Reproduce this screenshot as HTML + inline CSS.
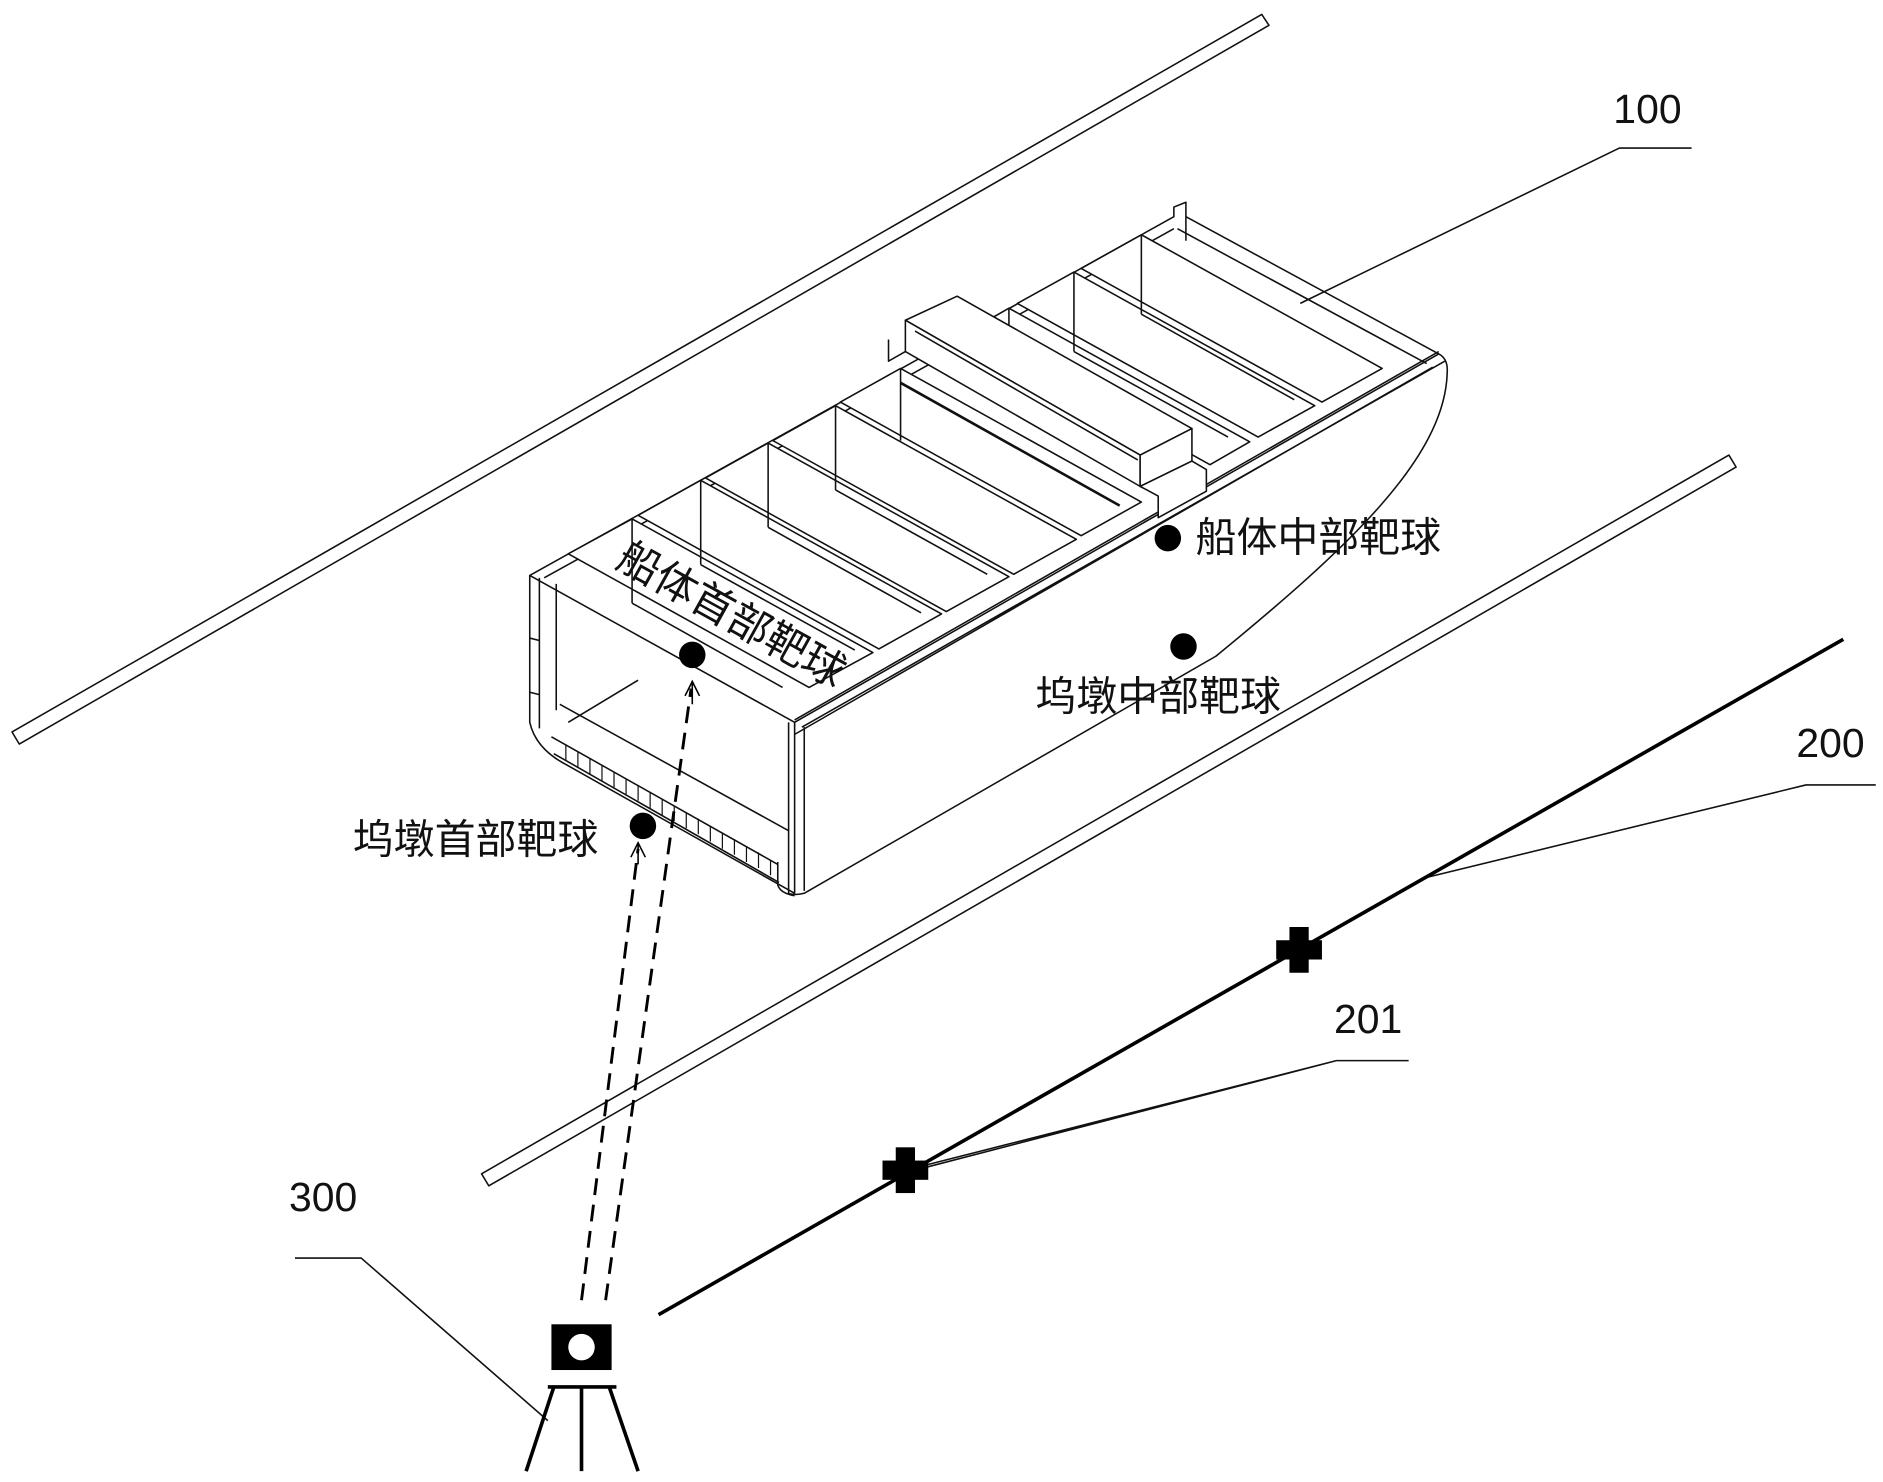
<!DOCTYPE html>
<html><head><meta charset="utf-8"><style>
html,body{margin:0;padding:0;background:#fff;}
svg{display:block;}
text{font-family:"Liberation Sans","Noto Sans CJK SC",sans-serif;fill:#111;}
</style></head><body>
<svg width="1883" height="1482" viewBox="0 0 1564 1231" preserveAspectRatio="none" xmlns="http://www.w3.org/2000/svg">
<g fill="none" stroke="#111" stroke-width="1.3" stroke-linejoin="round">
<!-- rails -->
<polygon points="10,608 1048,12 1054,21 16,618" fill="#fff"/>
<polygon points="400,975 1436,378 1442,388 406,985" fill="#fff"/>

<!-- ship hull near side -->
<path d="M660,600 L1195,294 Q1203,298 1202,310 C1200,380 1120,455 1010,545 L668,742 Q660,744 655,742 Z" fill="#fff"/>
<!-- front face -->
<path d="M440,478 L660,600 L660,742 L470,635 Q445,622 440,600 Z" fill="#fff"/>
<line x1="668" y1="604" x2="668" y2="740"/>
<line x1="655" y1="600" x2="655" y2="740"/>
<line x1="462" y1="485" x2="462" y2="590"/>
<line x1="465" y1="585" x2="655" y2="690"/>
<line x1="472" y1="600" x2="530" y2="565"/>
<line x1="448" y1="480" x2="448" y2="605"/>
<line x1="440" y1="530" x2="448" y2="532"/>
<line x1="440" y1="575" x2="448" y2="577"/>
<!-- hatched bottom strip -->
<path d="M458,612 L646,718 M460,626 L647,733"/>
<g stroke-width="1">
<path d="M470,619v13 M480,624v13 M490,630v13 M500,636v13 M510,641v13 M520,647v13 M530,652v13 M540,658v13 M550,664v13 M560,669v13 M570,675v13 M580,680v13 M590,686v13 M600,692v13 M610,697v13 M620,703v13 M630,708v13 M640,714v13"/>
</g>
<path d="M646,716 L646,735 Q648,742 660,744" />
<!-- far gunwale -->
<path d="M440,478 L975,180 L975,172 L985,168 L985,200"/>
<path d="M452,480 L975,190"/>
<!-- stern top edge -->
<path d="M985,180 L1195,294"/>
<path d="M978,190 L1185,302"/>
<!-- near gunwale rim -->
<path d="M660,598 L1195,292 M666,604 L1200,300 M660,610 L1190,305"/>

<!-- cells -->
<g fill="#fff">
<polygon points="472,460 525,431 725,542 672,571"/>
<polygon points="530,428 582,399 782,510 730,539"/>
<polygon points="586,397 638,368 838,479 786,508"/>
<polygon points="642,366 694,337 894,448 842,477"/>
<polygon points="698,334 748,306 948,417 898,445"/>
<polygon points="805,275 838,256 1038,367 1005,386"/>
<polygon points="845,252 892,226 1092,337 1045,363"/>
<polygon points="898,223 948,195 1148,306 1098,334"/>
</g>
<!-- inner walls -->
<path d="M525,431 v70 M582,399 v70 M638,368 v70 M694,337 v70 M748,306 v60 M838,256 v66 M892,226 v66 M948,195 v66"/>
<path d="M525,501 L650,571 M582,469 L710,540 M638,438 L765,509 M694,407 L820,477 M838,322 L965,393 M892,292 L1020,363 M948,261 L1075,332"/>
<line x1="748" y1="318" x2="930" y2="420" stroke-width="2.2"/>

<!-- raised box -->
<path d="M738,282 L738,300 L752,292" />
<polygon points="752,266 795,246 990,356 947,378" fill="#fff"/>
<polygon points="752,266 947,378 947,404 752,292" fill="#fff"/>
<polygon points="947,378 990,356 990,383 947,404" fill="#fff"/>
<path d="M760,275 L945,382"/>
<polygon points="947,404 990,383 1002,390 1002,408 962,430 962,412" fill="#fff"/>

<!-- leaders -->
<path d="M1080,252 L1345,123 L1405,123"/>
<path d="M1180,730 L1500,652 L1558,652"/>
<path d="M760,972 L1110,881 L1170,881 M1110,881 L768,968"/>
<path d="M245,1045 L300,1045 L455,1180"/>
</g>

<!-- line 200 -->
<line x1="547" y1="1092" x2="1531" y2="531" stroke="#000" stroke-width="3"/>
<g fill="#000">
<rect x="1071" y="770" width="16" height="38"/><rect x="1060" y="781" width="38" height="16"/>
<rect x="744" y="953" width="16" height="38"/><rect x="733" y="964" width="38" height="16"/>
</g>

<!-- dashed sight lines -->
<g stroke="#000" stroke-width="2.4" fill="none" stroke-dasharray="14,8">
<line x1="483" y1="1080" x2="530" y2="705"/>
<line x1="503" y1="1080" x2="574" y2="572"/>
</g>
<g stroke="#000" stroke-width="1.3" fill="none">
<path d="M524,712 L530,700 L536,712 M530,700 V718"/>
<path d="M569,578 L575,566 L581,578 M575,566 V585"/>
</g>

<!-- target balls -->
<g fill="#000">
<circle cx="575" cy="544" r="11"/>
<circle cx="534" cy="686" r="11"/>
<circle cx="970" cy="447" r="11"/>
<circle cx="983" cy="537" r="11"/>
</g>

<!-- instrument -->
<rect x="458" y="1100" width="50" height="38" fill="#000"/>
<circle cx="483" cy="1119" r="11" fill="#fff"/>
<g stroke="#000" stroke-width="3" fill="none">
<line x1="455" y1="1152" x2="512" y2="1152"/>
<line x1="460" y1="1152" x2="437" y2="1222"/>
<line x1="483" y1="1152" x2="483" y2="1222"/>
<line x1="506" y1="1152" x2="530" y2="1222"/>
</g>

<!-- labels -->
<g font-size="34">
<text x="993" y="458">船体中部靶球</text>
<text x="860" y="590">坞墩中部靶球</text>
<text x="293" y="709">坞墩首部靶球</text>
<text x="0" y="0" font-size="35" transform="translate(510,470) rotate(29)">船体首部靶球</text>
<text x="1340" y="102">100</text>
<text x="1492" y="629">200</text>
<text x="1108" y="858">201</text>
<text x="240" y="1006">300</text>
</g>
</svg>
</body></html>
